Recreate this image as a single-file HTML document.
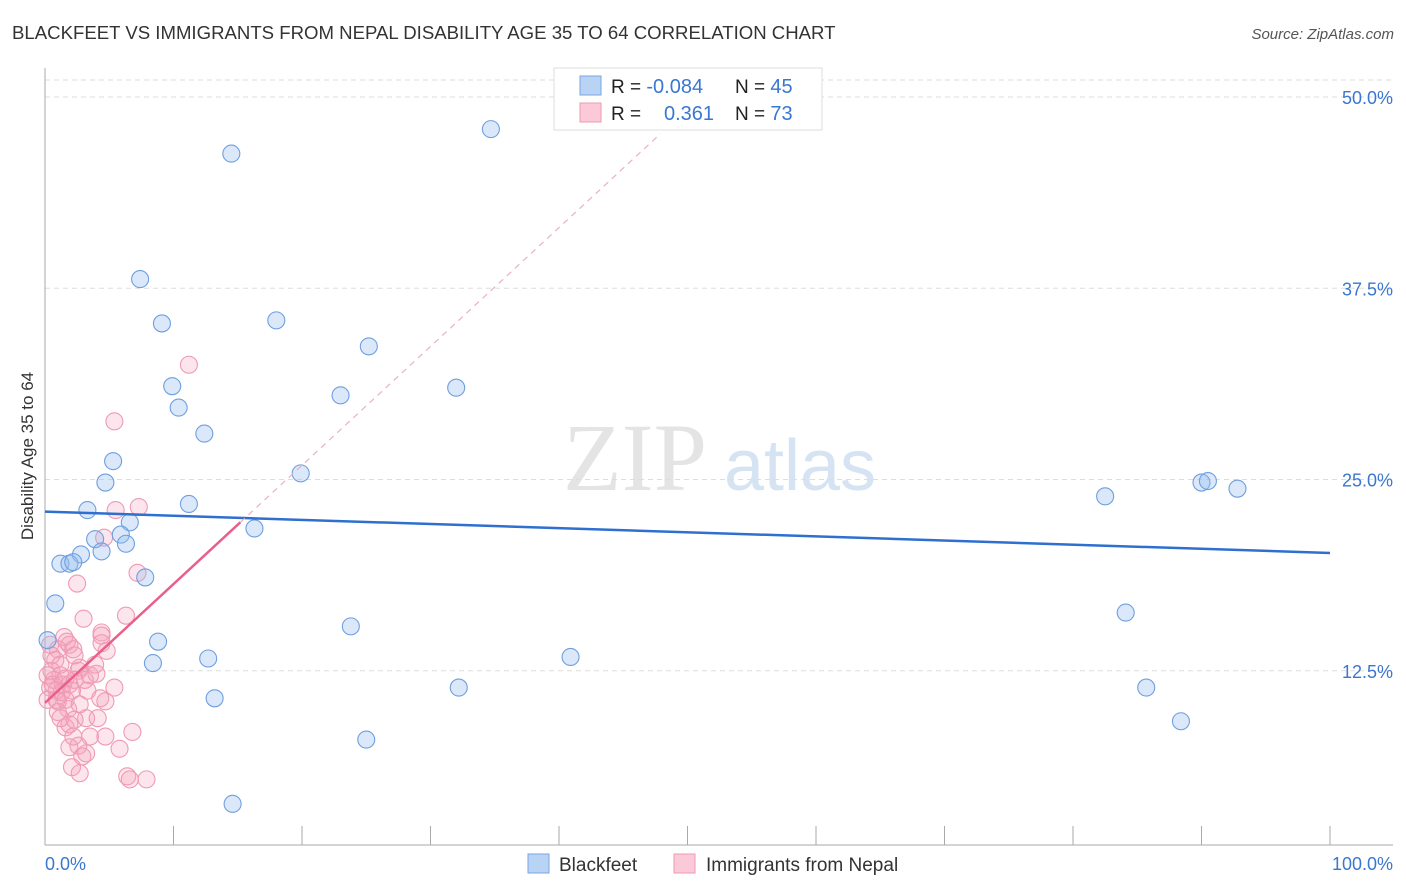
<!DOCTYPE html>
<html><head><meta charset="utf-8"><style>
body{margin:0;background:#fff;font-family:"Liberation Sans",sans-serif}
svg{display:block}
</style></head><body>
<svg id="c" width="1406" height="892">
<text x="12" y="39" font-size="18.6" fill="#333">BLACKFEET VS IMMIGRANTS FROM NEPAL DISABILITY AGE 35 TO 64 CORRELATION CHART</text>
<text x="1394" y="39" font-size="15" fill="#555" font-style="italic" text-anchor="end">Source: ZipAtlas.com</text>
<text x="33" y="456" font-size="17" fill="#333" text-anchor="middle" transform="rotate(-90 33 456)">Disability Age 35 to 64</text>
<g><text x="635" y="490" font-size="96" fill="#e4e4e4" font-family="Liberation Serif,serif" text-anchor="middle">ZIP</text><text x="800" y="490" font-size="72" fill="#d5e3f3" text-anchor="middle">atlas</text></g>
<g id="grid"></g><g id="axes"></g><g id="pts"></g><g id="lines"></g>
<g>
<rect x="554" y="68" width="268" height="62" fill="#fff" stroke="#ddd"/>
<rect x="580" y="76" width="21" height="19" fill="#b9d3f5" stroke="#7aa6e0"/>
<rect x="580" y="103" width="21" height="19" fill="#fbc9d8" stroke="#ee9ab3"/>
<text x="611" y="93" font-size="19" fill="#222">R = <tspan fill="#3a77d0" font-size="20">-0.084</tspan><tspan x="735">N = </tspan><tspan fill="#3a77d0" font-size="20">45</tspan></text>
<text x="611" y="120" font-size="19" fill="#222">R = <tspan x="664" fill="#3a77d0" font-size="20">0.361</tspan><tspan x="735">N = </tspan><tspan fill="#3a77d0" font-size="20">73</tspan></text>
</g>
<g>
<rect x="528" y="854" width="21" height="19" fill="#b9d3f5" stroke="#7aa6e0"/>
<text x="559" y="871" font-size="19" fill="#333">Blackfeet</text>
<rect x="674" y="854" width="21" height="19" fill="#fbc9d8" stroke="#ee9ab3"/>
<text x="706" y="871" font-size="19" fill="#333">Immigrants from Nepal</text>
</g>
</svg>
<script>
const yTicks=[12.5,25,37.5,50];
const yTickLabels=["12.5%","25.0%","37.5%","50.0%"];
const blueX=[14.5,34.7,7.4,9.1,18.0,25.2,9.9,32.0,23.0,10.4,12.4,5.3,19.9,4.7,11.2,3.3,6.6,16.3,5.9,3.9,6.3,2.8,4.4,1.2,1.9,2.2,7.8,0.8,23.8,8.8,0.2,12.7,8.4,40.9,32.2,13.2,25.0,14.6,82.5,90.0,90.5,92.8,84.1,85.7,88.4];
const blueY=[46.3,47.9,38.1,35.2,35.4,33.7,31.1,31.0,30.5,29.7,28.0,26.2,25.4,24.8,23.4,23.0,22.2,21.8,21.4,21.1,20.8,20.1,20.3,19.5,19.5,19.6,18.6,16.9,15.4,14.4,14.5,13.3,13.0,13.4,11.4,10.7,8.0,3.8,23.9,24.8,24.9,24.4,16.3,11.4,9.2];
const pinkX=[11.2,5.4,7.3,5.5,4.6,7.2,2.5,6.3,3.0,4.4,4.4,1.5,1.7,1.9,1.0,2.2,4.8,0.5,0.8,2.7,4.0,2.6,1.2,0.7,1.4,0.2,0.4,5.4,1.9,0.9,2.3,0.2,0.9,1.8,3.2,4.1,1.9,1.6,2.2,3.5,2.6,1.9,4.7,6.8,5.8,3.2,2.9,2.1,2.7,6.4,6.6,7.9,1.0,1.3,0.5,1.2,1.6,3.1,3.5,2.3,0.4,3.3,1.0,4.3,4.7,1.6,2.1,2.7,0.6,1.2,2.3,3.9,4.4];
const pinkY=[32.5,28.8,23.2,23.0,21.2,18.9,18.2,16.1,15.9,15.0,14.8,14.7,14.4,14.2,13.9,13.9,13.8,13.5,13.2,12.7,12.3,12.5,12.2,11.9,11.6,12.2,11.4,11.4,11.6,11.2,11.9,10.6,10.6,10.0,9.4,9.4,9.0,8.8,8.2,8.2,7.6,7.5,8.2,8.5,7.4,7.1,6.9,6.2,5.8,5.6,5.4,5.4,10.5,11.1,12.5,12.9,12.0,11.9,12.2,13.5,14.2,11.2,9.8,10.7,10.5,10.6,11.2,10.3,11.6,9.4,9.3,12.9,14.3];
const blueTrend=[[0,22.9],[100,20.2]];
const pinkSolid=[[0,10.4],[15.2,22.2]];
const pinkDash=[[15.2,22.2],[47.9,47.6]];
const NS='http://www.w3.org/2000/svg';
const X=v=>45+v*12.85, Y=v=>862-v*15.3;
function mk(t,a,p){const e=document.createElementNS(NS,t);for(const k in a)e.setAttribute(k,a[k]);document.getElementById(p).appendChild(e);return e;}
yTicks.forEach((t,i)=>{
 const g=mk('line',{x1:45,x2:1393,y1:Y(t),y2:Y(t),stroke:'#ddd','stroke-dasharray':'5,4'},'grid');
 
 
 const l=mk('text',{x:1393,y:Y(t)+7,'font-size':18,fill:'#3a77d0','text-anchor':'end'},'grid');
 l.textContent=yTickLabels[i];
 
 
});
const topGrid=mk('line',{x1:45,x2:1393,y1:80,y2:80,stroke:'#ddd','stroke-dasharray':'5,4'},'grid');


const ya=mk('line',{x1:45,x2:45,y1:68,y2:845,stroke:'#aaa'},'axes');


const xa=mk('line',{x1:45,x2:1393,y1:845,y2:845,stroke:'#aaa'},'axes');


for(let i=0;i<=10;i++){const t=mk('line',{x1:X(i*10),x2:X(i*10),y1:826,y2:845,stroke:'#aaa'},'axes');
 
 }
[[0,'0.0%','start',45],[100,'100.0%','end',1393]].forEach(a=>{const t=mk('text',{x:a[3],y:870,'font-size':18,fill:'#3a77d0','text-anchor':a[2]},'axes');t.textContent=a[1];
 
 });
pinkX.forEach((x,i)=>{const c=mk('circle',{cx:X(x),cy:Y(pinkY[i]),r:8.5,fill:'rgba(246,160,185,0.28)',stroke:'#f09ab4','stroke-width':1.1},'pts');
 
 });
blueX.forEach((x,i)=>{const c=mk('circle',{cx:X(x),cy:Y(blueY[i]),r:8.5,fill:'rgba(150,188,238,0.35)',stroke:'#6f9fe0','stroke-width':1.1},'pts');
 
 });
const bl=mk('line',{x1:X(blueTrend[0][0]),y1:Y(blueTrend[0][1]),x2:X(blueTrend[1][0]),y2:Y(blueTrend[1][1]),stroke:'#2f6fd0','stroke-width':2.5},'lines');


const pd=mk('line',{x1:X(pinkDash[0][0]),y1:Y(pinkDash[0][1]),x2:X(pinkDash[1][0]),y2:Y(pinkDash[1][1]),stroke:'#eab0c2','stroke-width':1.2,'stroke-dasharray':'6,5'},'lines');


const ps=mk('line',{x1:X(pinkSolid[0][0]),y1:Y(pinkSolid[0][1]),x2:X(pinkSolid[1][0]),y2:Y(pinkSolid[1][1]),stroke:'#e8608a','stroke-width':2.5},'lines');


</script>
</body></html>
